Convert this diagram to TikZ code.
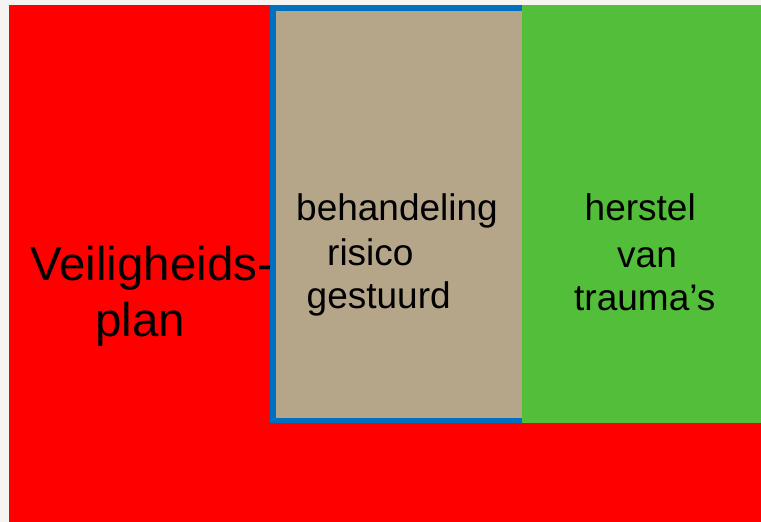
\documentclass[tikz,border=0pt]{standalone}
\usepackage{fontspec}
\setmainfont{Liberation Sans}
\definecolor{bgc}{RGB}{245,244,240}
\definecolor{redc}{RGB}{255,0,0}
\definecolor{tanc}{RGB}{181,165,137}
\definecolor{bluec}{RGB}{0,112,192}
\definecolor{greenc}{RGB}{83,190,57}
\tikzset{
  big/.style={inner sep=0pt, anchor=base west, font=\fontsize{47.5}{56}\selectfont},
  mid/.style={inner sep=0pt, anchor=base west, font=\fontsize{37}{44}\selectfont},
}
\begin{document}
\begin{tikzpicture}[x=1pt,y=-1pt]
\useasboundingbox (0,0) rectangle (761,522);
\fill[bgc] (0,0) rectangle (761,522);
\fill[redc] (9,5) rectangle (761,522);
\node[big] (v1) at (30,280) {Veiligheids-};
\node[big] (v2) at (95,336) {plan};
\filldraw[fill=tanc, draw=bluec, line width=5.5pt] (272.75,7.75) rectangle (527,420.25);
\fill[greenc] (522,5) rectangle (761,423);
\node[mid] (b1) at (296,220) {behandeling};
\node[mid] (b2) at (327,265) {risico};
\node[mid] (b3) at (306.5,308) {gestuurd};
\node[mid] (h1) at (584.5,220) {herstel};
\node[mid] (h2) at (617,267) {van};
\node[mid] (h3) at (574,310) {trauma’s};
\end{tikzpicture}
\end{document}
